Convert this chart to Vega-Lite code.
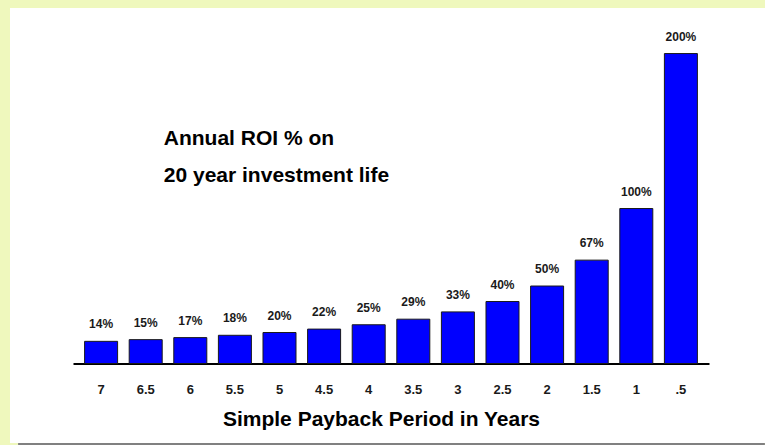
{
  "$schema": "https://vega.github.io/schema/vega-lite/v6.json",
  "width": 755,
  "height": 435,
  "autosize": "none",
  "padding": {"left": 10, "top": 8, "right": 0, "bottom": 2},
  "background": "#EFF8BD",
  "config": {"view": {"fill": "white", "stroke": null}, "font": "Liberation Sans"},
  "data": {
    "values": [
      {"payback": "7", "roi": 14.3, "label": "14%"},
      {"payback": "6.5", "roi": 15.4, "label": "15%"},
      {"payback": "6", "roi": 16.7, "label": "17%"},
      {"payback": "5.5", "roi": 18.2, "label": "18%"},
      {"payback": "5", "roi": 20, "label": "20%"},
      {"payback": "4.5", "roi": 22.2, "label": "22%"},
      {"payback": "4", "roi": 25, "label": "25%"},
      {"payback": "3.5", "roi": 28.6, "label": "29%"},
      {"payback": "3", "roi": 33.3, "label": "33%"},
      {"payback": "2.5", "roi": 40, "label": "40%"},
      {"payback": "2", "roi": 50, "label": "50%"},
      {"payback": "1.5", "roi": 66.7, "label": "67%"},
      {"payback": "1", "roi": 100, "label": "100%"},
      {"payback": ".5", "roi": 200, "label": "200%"}
    ]
  },
  "layer": [
    {
      "mark": {"type": "bar", "fill": "#0000FF", "stroke": "#1a1a1a", "strokeWidth": 1},
      "encoding": {
        "x": {
          "field": "payback", "type": "nominal", "sort": null,
          "scale": {
            "domain": ["7", "6.5", "6", "5.5", "5", "4.5", "4", "3.5", "3", "2.5", "2", "1.5", "1", ".5"],
            "range": [63, 699], "paddingInner": 0.26, "paddingOuter": 0.26
          },
          "axis": {
            "title": "Simple Payback Period in Years",
            "orient": "bottom",
            "offset": -79.4,
            "domainColor": "#000000",
            "domainWidth": 2,
            "ticks": false,
            "tickSize": 0,
            "grid": false,
            "labelAngle": 0,
            "labelFontSize": 13,
            "labelFontWeight": "bold",
            "labelColor": "#1a1a1a",
            "labelBaseline": "alphabetic",
            "labelPadding": 30,
            "titleFontSize": 21,
            "titleFontWeight": "bold",
            "titleColor": "#000000",
            "titleX": 371,
            "titleY": 62,
            "titleBaseline": "alphabetic",
            "titleAlign": "center"
          }
        },
        "y": {
          "field": "roi", "type": "quantitative",
          "scale": {"domain": [-51.3, 229.4], "nice": false, "zero": false},
          "axis": null
        }
      }
    },
    {
      "mark": {"type": "text", "fontSize": 12, "fontWeight": "bold", "baseline": "alphabetic", "dy": -13, "color": "#1a1a1a"},
      "encoding": {
        "x": {"field": "payback", "type": "nominal", "sort": null},
        "y": {"field": "roi", "type": "quantitative"},
        "text": {"field": "label"}
      }
    },
    {
      "data": {"values": [{}]},
      "mark": {"type": "text", "fontSize": 21, "fontWeight": "bold", "align": "left", "baseline": "alphabetic", "dx": -10, "lineHeight": 36.2, "color": "#000000"},
      "encoding": {
        "x": {"datum": "6", "bandPosition": 0},
        "y": {"datum": 140.7},
        "text": {"value": ["Annual ROI % on", "20 year investment life"]}
      }
    },
    {
      "data": {"values": [{}]},
      "mark": {"type": "rule", "color": "#808080", "strokeWidth": 2, "xOffset": -83, "x2Offset": 84, "yOffset": 1},
      "encoding": {
        "x": {"datum": "7"},
        "x2": {"datum": ".5"},
        "y": {"datum": -51.3}
      }
    }
  ]
}
